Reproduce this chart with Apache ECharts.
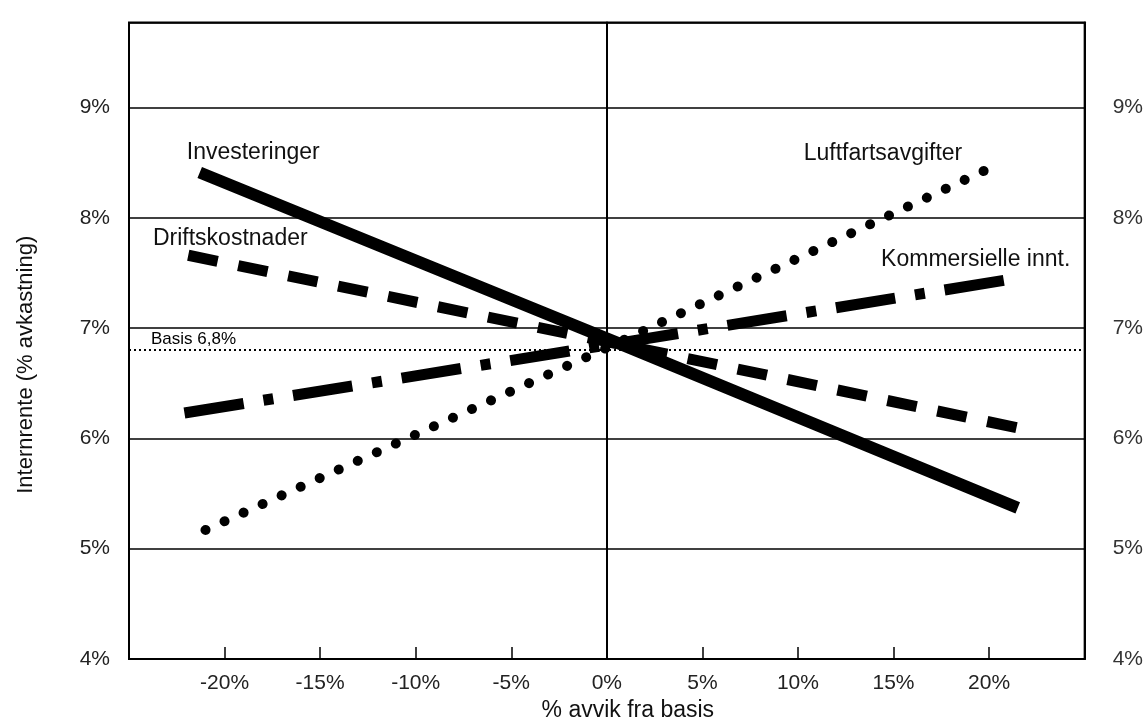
<!DOCTYPE html>
<html><head><meta charset="utf-8">
<script src="https://cdn.jsdelivr.net/npm/echarts@6/dist/echarts.min.js"></script>
<style>html,body{margin:0;padding:0;background:#fff;}#c{width:1146px;height:727px;}</style>
</head><body><div id="c"></div>
<script>
// ---- data ----
const xTicks = [-20, -15, -10, -5, 0, 5, 10, 15, 20];
const yTicks = [4, 5, 6, 7, 8, 9];
const seriesNames = ['Investeringer', 'Driftskostnader', 'Luftfartsavgifter', 'Kommersielle innt.'];
const investeringerX = [-21.3, 0.5, 21.5];
const investeringerY = [8.41, 6.87, 5.37];
const driftskostnaderX = [-21.9, 0.5, 21.9];
const driftskostnaderY = [7.66, 6.86, 6.08];
const luftfartX = [-21.0, 0.5, 20.4];
const luftfartY = [5.17, 6.86, 8.48];
const kommersielleX = [-22.1, 0.5, 21.4];
const kommersielleY = [6.23, 6.86, 7.45];
const basisValue = 6.8;
const basisLabel = 'Basis 6,8%';
const xName = '% avvik fra basis';
const yName = 'Internrente (% avkastning)';

// ---- chart ----
const FONT = '"Liberation Sans", Arial, Helvetica, sans-serif';
const zip = (xs, ys) => xs.map((x, i) => [x, ys[i]]);
const isTick = (v, list) => list.some(t => Math.abs(t - v) < 1e-6);

function nameMark(text, coord) {
  return {
    silent: true, symbol: 'circle', symbolSize: 1,
    itemStyle: { color: 'rgba(0,0,0,0)' },
    label: { show: true, position: 'inside', formatter: text, fontFamily: FONT, fontSize: 23, color: '#111' },
    data: [{ coord: coord }]
  };
}

const yAxisBase = {
  type: 'value', min: 4, max: 9.77, interval: 1,
  axisLine: { show: true, lineStyle: { color: '#000', width: 2 } },
  axisTick: { show: false },
  axisLabel: { fontSize: 21, fontFamily: FONT, color: '#222',
    formatter: v => isTick(v, yTicks) ? Math.round(v) + '%' : '' }
};

const chart = echarts.init(document.getElementById('c'), null, { renderer: 'canvas' });
chart.setOption({
  animation: false,
  backgroundColor: '#fff',
  grid: { left: 129, right: 61, top: 22.5, bottom: 64, show: true, borderColor: '#000', borderWidth: 2 },
  xAxis: {
    type: 'value', min: -25, max: 25, interval: 5,
    axisLine: { show: true, lineStyle: { color: '#000', width: 2 } },
    axisTick: { show: true, inside: true, length: 12, lineStyle: { color: '#000', width: 1.5 } },
    axisLabel: { margin: 14, fontSize: 21, fontFamily: FONT, color: '#222',
      formatter: v => isTick(v, xTicks) ? Math.round(v) + '%' : '' },
    splitLine: { show: false },
    name: xName, nameLocation: 'middle', nameGap: 40,
    nameTextStyle: { fontSize: 23, fontFamily: FONT, color: '#111', padding: [0, 0, 0, 42] }
  },
  yAxis: [
    Object.assign({}, yAxisBase, {
      position: 'left',
      axisLabel: Object.assign({}, yAxisBase.axisLabel, { margin: 19 }),
      splitLine: { show: true, lineStyle: { color: '#000', width: 1.5 } },
      name: yName, nameLocation: 'middle', nameGap: 92, nameRotate: 90,
      nameTextStyle: { fontSize: 22, fontFamily: FONT, color: '#111', padding: [0, 48, 0, 0] }
    }),
    Object.assign({}, yAxisBase, {
      position: 'right',
      axisLabel: Object.assign({}, yAxisBase.axisLabel, { margin: 28, color: '#333' }),
      splitLine: { show: false }
    })
  ],
  series: [
    {
      type: 'line', data: [], silent: true, z: 1,
      markLine: {
        silent: true, symbol: 'none', animation: false,
        data: [
          { xAxis: 0, lineStyle: { type: 'solid', width: 1.5, color: '#000' }, label: { show: false } },
          { yAxis: basisValue, lineStyle: { type: [2, 3], width: 2, color: '#000' },
            label: { show: true, position: 'insideStartTop', formatter: basisLabel, fontSize: 17,
              fontFamily: FONT, color: '#000', padding: [0, 0, 0, 20], distance: 2 } }
        ]
      }
    },
    {
      name: seriesNames[0], type: 'line', z: 5, symbol: 'none',
      data: zip(investeringerX, investeringerY),
      lineStyle: { color: '#000', width: 12, cap: 'butt' },
      markPoint: nameMark(seriesNames[0], [-18.5, 8.59])
    },
    {
      name: seriesNames[1], type: 'line', z: 4, symbol: 'none',
      data: zip(driftskostnaderX, driftskostnaderY),
      lineStyle: { color: '#000', width: 11, type: [30, 21], cap: 'butt' },
      markPoint: nameMark(seriesNames[1], [-19.7, 7.81])
    },
    {
      name: seriesNames[2], type: 'line', z: 4, symbol: 'none',
      data: zip(luftfartX, luftfartY),
      lineStyle: { color: '#000', width: 10, type: [0.1, 20.8], cap: 'round' },
      markPoint: nameMark(seriesNames[2], [14.45, 8.58])
    },
    {
      name: seriesNames[3], type: 'line', z: 4, symbol: 'none',
      data: zip(kommersielleX, kommersielleY),
      lineStyle: { color: '#000', width: 11, type: [60, 20, 10, 20], cap: 'butt' },
      markPoint: nameMark(seriesNames[3], [19.3, 7.62])
    }
  ]
});
</script>
</body></html>
